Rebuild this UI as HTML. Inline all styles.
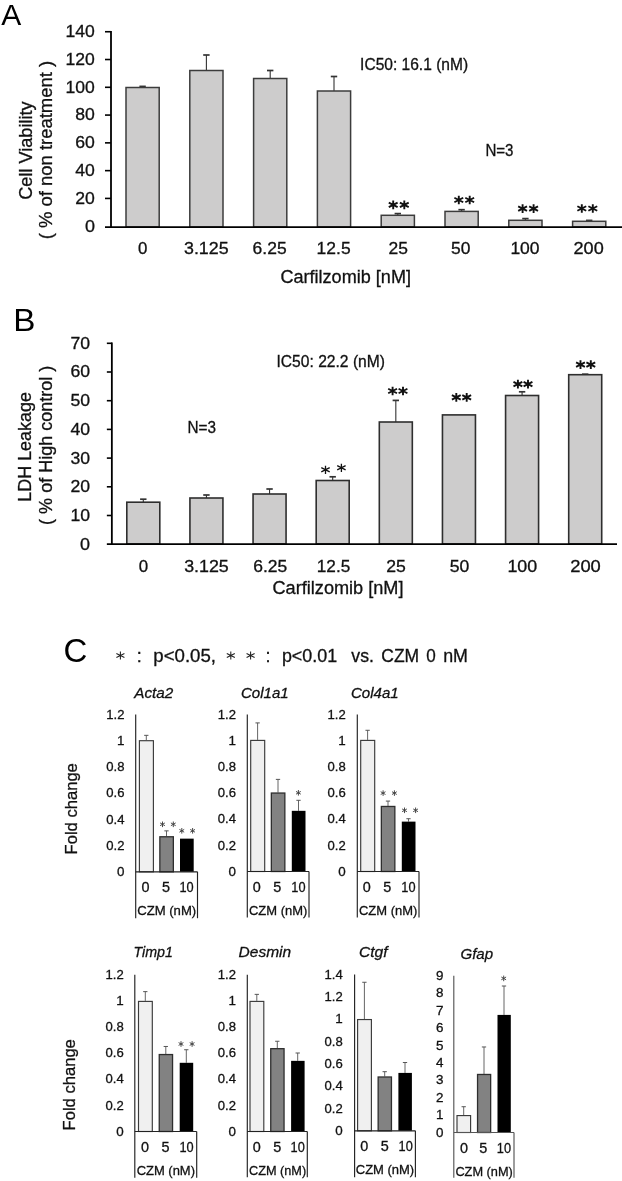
<!DOCTYPE html>
<html><head><meta charset="utf-8"><title>Figure</title>
<style>
html,body{margin:0;padding:0;background:#fff;}
body{width:622px;height:1181px;overflow:hidden;}
svg{display:block;filter:blur(0.35px);}
svg text{font-family:"Liberation Sans", sans-serif;stroke:#111;stroke-width:0.3px;}
</style></head><body>
<svg width="622" height="1181" viewBox="0 0 622 1181">
<rect x="0" y="0" width="622" height="1181" fill="#ffffff"/>
<text x="1.20" y="25.30" font-size="30" text-anchor="start" fill="#000" style="stroke:none">A</text>
<text x="13.20" y="331.20" font-size="31" text-anchor="start" fill="#000" textLength="22.20" lengthAdjust="spacingAndGlyphs" style="stroke:none">B</text>
<text x="63.60" y="662.40" font-size="33" text-anchor="start" fill="#000" style="stroke:none">C</text>
<line x1="142.60" y1="86.40" x2="142.60" y2="87.50" stroke="#333" stroke-width="1.1"/>
<line x1="139.40" y1="86.40" x2="145.80" y2="86.40" stroke="#333" stroke-width="1.7"/>
<rect x="126.00" y="87.50" width="33.20" height="139.50" fill="#cdcccc" stroke="#3c3c3c" stroke-width="1.5"/>
<line x1="206.40" y1="55.00" x2="206.40" y2="70.50" stroke="#333" stroke-width="1.1"/>
<line x1="203.20" y1="55.00" x2="209.60" y2="55.00" stroke="#333" stroke-width="1.7"/>
<rect x="189.80" y="70.50" width="33.20" height="156.50" fill="#cdcccc" stroke="#3c3c3c" stroke-width="1.5"/>
<line x1="270.20" y1="70.50" x2="270.20" y2="78.50" stroke="#333" stroke-width="1.1"/>
<line x1="267.00" y1="70.50" x2="273.40" y2="70.50" stroke="#333" stroke-width="1.7"/>
<rect x="253.60" y="78.50" width="33.20" height="148.50" fill="#cdcccc" stroke="#3c3c3c" stroke-width="1.5"/>
<line x1="334.00" y1="76.50" x2="334.00" y2="91.00" stroke="#333" stroke-width="1.1"/>
<line x1="330.80" y1="76.50" x2="337.20" y2="76.50" stroke="#333" stroke-width="1.7"/>
<rect x="317.40" y="91.00" width="33.20" height="136.00" fill="#cdcccc" stroke="#3c3c3c" stroke-width="1.5"/>
<line x1="397.80" y1="213.60" x2="397.80" y2="215.30" stroke="#333" stroke-width="1.1"/>
<line x1="394.60" y1="213.60" x2="401.00" y2="213.60" stroke="#333" stroke-width="1.7"/>
<rect x="381.20" y="215.30" width="33.20" height="11.70" fill="#cdcccc" stroke="#3c3c3c" stroke-width="1.5"/>
<line x1="461.60" y1="209.70" x2="461.60" y2="211.40" stroke="#333" stroke-width="1.1"/>
<line x1="458.40" y1="209.70" x2="464.80" y2="209.70" stroke="#333" stroke-width="1.7"/>
<rect x="445.00" y="211.40" width="33.20" height="15.60" fill="#cdcccc" stroke="#3c3c3c" stroke-width="1.5"/>
<line x1="525.40" y1="218.60" x2="525.40" y2="220.30" stroke="#333" stroke-width="1.1"/>
<line x1="522.20" y1="218.60" x2="528.60" y2="218.60" stroke="#333" stroke-width="1.7"/>
<rect x="508.80" y="220.30" width="33.20" height="6.70" fill="#cdcccc" stroke="#3c3c3c" stroke-width="1.5"/>
<line x1="589.20" y1="220.40" x2="589.20" y2="221.30" stroke="#333" stroke-width="1.1"/>
<line x1="586.00" y1="220.40" x2="592.40" y2="220.40" stroke="#333" stroke-width="1.7"/>
<rect x="572.60" y="221.30" width="33.20" height="5.70" fill="#cdcccc" stroke="#3c3c3c" stroke-width="1.5"/>
<line x1="111.00" y1="30.95" x2="111.00" y2="227.88" stroke="#000" stroke-width="1.8"/>
<line x1="105.00" y1="227.00" x2="622.00" y2="227.00" stroke="#000" stroke-width="1.75"/>
<text x="94.90" y="231.60" font-size="16.3" text-anchor="end" fill="#111" textLength="10.00" lengthAdjust="spacingAndGlyphs">0</text>
<line x1="105.00" y1="198.42" x2="111.00" y2="198.42" stroke="#000" stroke-width="1.6"/>
<text x="94.90" y="203.82" font-size="16.3" text-anchor="end" fill="#111" textLength="19.60" lengthAdjust="spacingAndGlyphs">20</text>
<line x1="105.00" y1="170.64" x2="111.00" y2="170.64" stroke="#000" stroke-width="1.6"/>
<text x="94.90" y="176.04" font-size="16.3" text-anchor="end" fill="#111" textLength="19.60" lengthAdjust="spacingAndGlyphs">40</text>
<line x1="105.00" y1="142.86" x2="111.00" y2="142.86" stroke="#000" stroke-width="1.6"/>
<text x="94.90" y="148.26" font-size="16.3" text-anchor="end" fill="#111" textLength="19.60" lengthAdjust="spacingAndGlyphs">60</text>
<line x1="105.00" y1="115.08" x2="111.00" y2="115.08" stroke="#000" stroke-width="1.6"/>
<text x="94.90" y="120.48" font-size="16.3" text-anchor="end" fill="#111" textLength="19.60" lengthAdjust="spacingAndGlyphs">80</text>
<line x1="105.00" y1="87.30" x2="111.00" y2="87.30" stroke="#000" stroke-width="1.6"/>
<text x="94.90" y="92.70" font-size="16.3" text-anchor="end" fill="#111" textLength="29.30" lengthAdjust="spacingAndGlyphs">100</text>
<line x1="105.00" y1="59.52" x2="111.00" y2="59.52" stroke="#000" stroke-width="1.6"/>
<text x="94.90" y="64.92" font-size="16.3" text-anchor="end" fill="#111" textLength="29.30" lengthAdjust="spacingAndGlyphs">120</text>
<line x1="105.00" y1="31.74" x2="111.00" y2="31.74" stroke="#000" stroke-width="1.6"/>
<text x="94.90" y="37.14" font-size="16.3" text-anchor="end" fill="#111" textLength="29.30" lengthAdjust="spacingAndGlyphs">140</text>
<text x="142.80" y="254.00" font-size="16.6" text-anchor="middle" fill="#111" textLength="9.40" lengthAdjust="spacingAndGlyphs">0</text>
<text x="206.30" y="254.00" font-size="16.6" text-anchor="middle" fill="#111" textLength="44.60" lengthAdjust="spacingAndGlyphs">3.125</text>
<text x="269.60" y="254.00" font-size="16.6" text-anchor="middle" fill="#111" textLength="34.00" lengthAdjust="spacingAndGlyphs">6.25</text>
<text x="333.60" y="254.00" font-size="16.6" text-anchor="middle" fill="#111" textLength="34.00" lengthAdjust="spacingAndGlyphs">12.5</text>
<text x="398.30" y="254.00" font-size="16.6" text-anchor="middle" fill="#111" textLength="19.40" lengthAdjust="spacingAndGlyphs">25</text>
<text x="460.70" y="254.00" font-size="16.6" text-anchor="middle" fill="#111" textLength="19.40" lengthAdjust="spacingAndGlyphs">50</text>
<text x="525.00" y="254.00" font-size="16.6" text-anchor="middle" fill="#111" textLength="29.20" lengthAdjust="spacingAndGlyphs">100</text>
<text x="588.60" y="254.00" font-size="16.6" text-anchor="middle" fill="#111" textLength="30.20" lengthAdjust="spacingAndGlyphs">200</text>
<text x="280.40" y="283.00" font-size="18" text-anchor="start" fill="#111" textLength="130.60" lengthAdjust="spacingAndGlyphs">Carfilzomib [nM]</text>
<text x="31.80" y="150.60" font-size="18" text-anchor="middle" fill="#111" textLength="98.40" lengthAdjust="spacingAndGlyphs" transform="rotate(-90 31.80 150.60)">Cell Viability</text>
<text x="52.10" y="150.10" font-size="18" text-anchor="middle" fill="#111" textLength="178.40" lengthAdjust="spacingAndGlyphs" transform="rotate(-90 52.10 150.10)">( % of non treatment )</text>
<path d="M393.20 200.44L393.20 209.17M388.79 202.55L397.61 207.05M397.61 202.55L388.79 207.05" stroke="#111" stroke-width="1.9" fill="none"/>
<path d="M404.30 200.44L404.30 209.17M399.89 202.55L408.71 207.05M408.71 202.55L399.89 207.05" stroke="#111" stroke-width="1.9" fill="none"/>
<path d="M458.80 195.63L458.80 204.37M454.39 197.75L463.21 202.25M463.21 197.75L454.39 202.25" stroke="#111" stroke-width="1.9" fill="none"/>
<path d="M469.70 195.63L469.70 204.37M465.29 197.75L474.11 202.25M474.11 197.75L465.29 202.25" stroke="#111" stroke-width="1.9" fill="none"/>
<path d="M522.60 204.23L522.60 212.97M518.19 206.35L527.01 210.85M527.01 206.35L518.19 210.85" stroke="#111" stroke-width="1.9" fill="none"/>
<path d="M533.60 204.23L533.60 212.97M529.19 206.35L538.01 210.85M538.01 206.35L529.19 210.85" stroke="#111" stroke-width="1.9" fill="none"/>
<path d="M581.80 204.13L581.80 212.87M577.39 206.25L586.21 210.75M586.21 206.25L577.39 210.75" stroke="#111" stroke-width="1.9" fill="none"/>
<path d="M592.80 204.13L592.80 212.87M588.39 206.25L597.21 210.75M597.21 206.25L588.39 210.75" stroke="#111" stroke-width="1.9" fill="none"/>
<text x="360.10" y="69.80" font-size="15.6" text-anchor="start" fill="#111" textLength="108.00" lengthAdjust="spacingAndGlyphs">IC50: 16.1 (nM)</text>
<text x="485.40" y="155.70" font-size="15.6" text-anchor="start" fill="#111" textLength="28.10" lengthAdjust="spacingAndGlyphs">N=3</text>
<line x1="143.30" y1="499.20" x2="143.30" y2="502.20" stroke="#333" stroke-width="1.1"/>
<line x1="140.10" y1="499.20" x2="146.50" y2="499.20" stroke="#333" stroke-width="1.7"/>
<rect x="126.80" y="502.20" width="33.00" height="41.80" fill="#cdcccc" stroke="#2e2e2e" stroke-width="1.6"/>
<line x1="206.43" y1="495.00" x2="206.43" y2="498.00" stroke="#333" stroke-width="1.1"/>
<line x1="203.23" y1="495.00" x2="209.63" y2="495.00" stroke="#333" stroke-width="1.7"/>
<rect x="189.93" y="498.00" width="33.00" height="46.00" fill="#cdcccc" stroke="#2e2e2e" stroke-width="1.6"/>
<line x1="269.56" y1="489.00" x2="269.56" y2="494.00" stroke="#333" stroke-width="1.1"/>
<line x1="266.36" y1="489.00" x2="272.76" y2="489.00" stroke="#333" stroke-width="1.7"/>
<rect x="253.06" y="494.00" width="33.00" height="50.00" fill="#cdcccc" stroke="#2e2e2e" stroke-width="1.6"/>
<line x1="332.69" y1="476.80" x2="332.69" y2="480.50" stroke="#333" stroke-width="1.1"/>
<line x1="329.49" y1="476.80" x2="335.89" y2="476.80" stroke="#333" stroke-width="1.7"/>
<rect x="316.19" y="480.50" width="33.00" height="63.50" fill="#cdcccc" stroke="#2e2e2e" stroke-width="1.6"/>
<line x1="395.82" y1="400.40" x2="395.82" y2="422.00" stroke="#333" stroke-width="1.1"/>
<line x1="392.62" y1="400.40" x2="399.02" y2="400.40" stroke="#333" stroke-width="1.7"/>
<rect x="379.32" y="422.00" width="33.00" height="122.00" fill="#cdcccc" stroke="#2e2e2e" stroke-width="1.6"/>
<rect x="442.45" y="414.90" width="33.00" height="129.10" fill="#cdcccc" stroke="#2e2e2e" stroke-width="1.6"/>
<line x1="522.08" y1="391.80" x2="522.08" y2="395.50" stroke="#333" stroke-width="1.1"/>
<line x1="518.88" y1="391.80" x2="525.28" y2="391.80" stroke="#333" stroke-width="1.7"/>
<rect x="505.58" y="395.50" width="33.00" height="148.50" fill="#cdcccc" stroke="#2e2e2e" stroke-width="1.6"/>
<line x1="585.21" y1="374.20" x2="585.21" y2="374.70" stroke="#333" stroke-width="1.1"/>
<line x1="582.01" y1="374.20" x2="588.41" y2="374.20" stroke="#333" stroke-width="1.7"/>
<rect x="568.71" y="374.70" width="33.00" height="169.30" fill="#cdcccc" stroke="#2e2e2e" stroke-width="1.6"/>
<line x1="111.85" y1="342.45" x2="111.85" y2="544.88" stroke="#000" stroke-width="1.8"/>
<line x1="106.85" y1="544.00" x2="617.00" y2="544.00" stroke="#000" stroke-width="1.75"/>
<text x="90.00" y="549.60" font-size="16.3" text-anchor="end" fill="#111" textLength="10.00" lengthAdjust="spacingAndGlyphs">0</text>
<line x1="106.85" y1="515.50" x2="111.85" y2="515.50" stroke="#000" stroke-width="1.6"/>
<text x="90.00" y="520.90" font-size="16.3" text-anchor="end" fill="#111" textLength="19.60" lengthAdjust="spacingAndGlyphs">10</text>
<line x1="106.85" y1="486.80" x2="111.85" y2="486.80" stroke="#000" stroke-width="1.6"/>
<text x="90.00" y="492.20" font-size="16.3" text-anchor="end" fill="#111" textLength="19.60" lengthAdjust="spacingAndGlyphs">20</text>
<line x1="106.85" y1="458.10" x2="111.85" y2="458.10" stroke="#000" stroke-width="1.6"/>
<text x="90.00" y="463.50" font-size="16.3" text-anchor="end" fill="#111" textLength="19.60" lengthAdjust="spacingAndGlyphs">30</text>
<line x1="106.85" y1="429.40" x2="111.85" y2="429.40" stroke="#000" stroke-width="1.6"/>
<text x="90.00" y="434.80" font-size="16.3" text-anchor="end" fill="#111" textLength="19.60" lengthAdjust="spacingAndGlyphs">40</text>
<line x1="106.85" y1="400.70" x2="111.85" y2="400.70" stroke="#000" stroke-width="1.6"/>
<text x="90.00" y="406.10" font-size="16.3" text-anchor="end" fill="#111" textLength="19.60" lengthAdjust="spacingAndGlyphs">50</text>
<line x1="106.85" y1="372.00" x2="111.85" y2="372.00" stroke="#000" stroke-width="1.6"/>
<text x="90.00" y="377.40" font-size="16.3" text-anchor="end" fill="#111" textLength="19.60" lengthAdjust="spacingAndGlyphs">60</text>
<line x1="106.85" y1="343.30" x2="111.85" y2="343.30" stroke="#000" stroke-width="1.6"/>
<text x="90.00" y="348.70" font-size="16.3" text-anchor="end" fill="#111" textLength="19.60" lengthAdjust="spacingAndGlyphs">70</text>
<text x="143.50" y="572.20" font-size="16.6" text-anchor="middle" fill="#111" textLength="9.40" lengthAdjust="spacingAndGlyphs">0</text>
<text x="206.50" y="572.20" font-size="16.6" text-anchor="middle" fill="#111" textLength="44.60" lengthAdjust="spacingAndGlyphs">3.125</text>
<text x="270.20" y="572.20" font-size="16.6" text-anchor="middle" fill="#111" textLength="34.00" lengthAdjust="spacingAndGlyphs">6.25</text>
<text x="333.50" y="572.20" font-size="16.6" text-anchor="middle" fill="#111" textLength="33.50" lengthAdjust="spacingAndGlyphs">12.5</text>
<text x="396.00" y="572.20" font-size="16.6" text-anchor="middle" fill="#111" textLength="19.60" lengthAdjust="spacingAndGlyphs">25</text>
<text x="459.50" y="572.20" font-size="16.6" text-anchor="middle" fill="#111" textLength="19.60" lengthAdjust="spacingAndGlyphs">50</text>
<text x="522.30" y="572.20" font-size="16.6" text-anchor="middle" fill="#111" textLength="29.80" lengthAdjust="spacingAndGlyphs">100</text>
<text x="585.50" y="572.20" font-size="16.6" text-anchor="middle" fill="#111" textLength="30.60" lengthAdjust="spacingAndGlyphs">200</text>
<text x="272.50" y="594.30" font-size="18" text-anchor="start" fill="#111" textLength="131.00" lengthAdjust="spacingAndGlyphs">Carfilzomib [nM]</text>
<text x="30.90" y="446.90" font-size="18" text-anchor="middle" fill="#111" textLength="109.60" lengthAdjust="spacingAndGlyphs" transform="rotate(-90 30.90 446.90)">LDH Leakage</text>
<text x="52.10" y="445.30" font-size="18" text-anchor="middle" fill="#111" textLength="159.20" lengthAdjust="spacingAndGlyphs" transform="rotate(-90 52.10 445.30)">( % of High control )</text>
<path d="M325.50 465.63L325.50 473.97M321.29 467.65L329.71 471.95M329.71 467.65L321.29 471.95" stroke="#111" stroke-width="1.3" fill="none"/>
<path d="M341.40 463.63L341.40 471.97M337.19 465.65L345.61 469.95M345.61 465.65L337.19 469.95" stroke="#111" stroke-width="1.3" fill="none"/>
<path d="M392.60 386.63L392.60 395.37M388.19 388.75L397.01 393.25M397.01 388.75L388.19 393.25" stroke="#111" stroke-width="1.9" fill="none"/>
<path d="M403.00 386.63L403.00 395.37M398.59 388.75L407.41 393.25M407.41 388.75L398.59 393.25" stroke="#111" stroke-width="1.9" fill="none"/>
<path d="M456.30 393.03L456.30 401.76M451.89 395.15L460.71 399.65M460.71 395.15L451.89 399.65" stroke="#111" stroke-width="1.9" fill="none"/>
<path d="M466.70 393.03L466.70 401.76M462.29 395.15L471.11 399.65M471.11 395.15L462.29 399.65" stroke="#111" stroke-width="1.9" fill="none"/>
<path d="M517.90 379.83L517.90 388.56M513.49 381.95L522.31 386.45M522.31 381.95L513.49 386.45" stroke="#111" stroke-width="1.9" fill="none"/>
<path d="M528.00 379.83L528.00 388.56M523.59 381.95L532.41 386.45M532.41 381.95L523.59 386.45" stroke="#111" stroke-width="1.9" fill="none"/>
<path d="M580.50 360.33L580.50 369.06M576.09 362.45L584.91 366.95M584.91 362.45L576.09 366.95" stroke="#111" stroke-width="1.9" fill="none"/>
<path d="M590.80 360.33L590.80 369.06M586.39 362.45L595.21 366.95M595.21 362.45L586.39 366.95" stroke="#111" stroke-width="1.9" fill="none"/>
<text x="276.50" y="367.00" font-size="15.6" text-anchor="start" fill="#111" textLength="108.50" lengthAdjust="spacingAndGlyphs">IC50: 22.2 (nM)</text>
<text x="187.50" y="433.00" font-size="15.6" text-anchor="start" fill="#111" textLength="28.50" lengthAdjust="spacingAndGlyphs">N=3</text>
<path d="M120.40 651.52L120.40 659.48M116.38 653.45L124.42 657.55M124.42 653.45L116.38 657.55" stroke="#222" stroke-width="1.05" fill="none"/>
<text x="139.20" y="661.70" font-size="18.0" text-anchor="middle" fill="#111">:</text>
<text x="153.30" y="661.70" font-size="18.0" text-anchor="start" fill="#111" textLength="62.70" lengthAdjust="spacingAndGlyphs">p&lt;0.05,</text>
<path d="M230.80 651.52L230.80 659.48M226.78 653.45L234.82 657.55M234.82 653.45L226.78 657.55" stroke="#222" stroke-width="1.05" fill="none"/>
<path d="M250.60 651.52L250.60 659.48M246.58 653.45L254.62 657.55M254.62 653.45L246.58 657.55" stroke="#222" stroke-width="1.05" fill="none"/>
<text x="268.00" y="661.70" font-size="18.0" text-anchor="middle" fill="#111">:</text>
<text x="281.90" y="661.70" font-size="18.0" text-anchor="start" fill="#111" textLength="55.20" lengthAdjust="spacingAndGlyphs">p&lt;0.01</text>
<text x="351.30" y="661.70" font-size="18.0" text-anchor="start" fill="#111" textLength="22.60" lengthAdjust="spacingAndGlyphs">vs.</text>
<text x="381.30" y="661.70" font-size="18.0" text-anchor="start" fill="#111" textLength="37.90" lengthAdjust="spacingAndGlyphs">CZM</text>
<text x="426.30" y="661.70" font-size="18.0" text-anchor="start" fill="#111" textLength="9.50" lengthAdjust="spacingAndGlyphs">0</text>
<text x="443.20" y="661.70" font-size="18.0" text-anchor="start" fill="#111" textLength="24.80" lengthAdjust="spacingAndGlyphs">nM</text>
<line x1="146.30" y1="735.33" x2="146.30" y2="740.20" stroke="#555" stroke-width="0.9"/>
<line x1="144.15" y1="735.33" x2="148.45" y2="735.33" stroke="#555" stroke-width="1.0"/>
<rect x="139.40" y="740.70" width="14.00" height="131.10" fill="#f0f0f0" stroke="#3a3a3a" stroke-width="1.15"/>
<line x1="166.50" y1="830.87" x2="166.50" y2="836.27" stroke="#555" stroke-width="0.9"/>
<line x1="164.35" y1="830.87" x2="168.65" y2="830.87" stroke="#555" stroke-width="1.0"/>
<rect x="159.85" y="836.77" width="13.50" height="35.03" fill="#828282" stroke="#2e2e2e" stroke-width="1.3"/>
<rect x="180.00" y="838.64" width="13.70" height="33.16" fill="#000"/>
<line x1="135.70" y1="714.60" x2="135.70" y2="918.20" stroke="#222" stroke-width="1.15"/>
<line x1="135.70" y1="871.80" x2="197.50" y2="871.80" stroke="#222" stroke-width="1.15"/>
<line x1="197.50" y1="871.80" x2="197.50" y2="918.20" stroke="#222" stroke-width="1.15"/>
<text x="124.50" y="876.00" font-size="13.4" text-anchor="end" fill="#111">0</text>
<text x="124.50" y="849.80" font-size="13.4" text-anchor="end" fill="#111" textLength="18.20" lengthAdjust="spacingAndGlyphs">0.2</text>
<text x="124.50" y="823.60" font-size="13.4" text-anchor="end" fill="#111" textLength="18.20" lengthAdjust="spacingAndGlyphs">0.4</text>
<text x="124.50" y="797.40" font-size="13.4" text-anchor="end" fill="#111" textLength="18.20" lengthAdjust="spacingAndGlyphs">0.6</text>
<text x="124.50" y="771.20" font-size="13.4" text-anchor="end" fill="#111" textLength="18.20" lengthAdjust="spacingAndGlyphs">0.8</text>
<text x="124.50" y="745.00" font-size="13.4" text-anchor="end" fill="#111">1</text>
<text x="124.50" y="718.80" font-size="13.4" text-anchor="end" fill="#111" textLength="18.20" lengthAdjust="spacingAndGlyphs">1.2</text>
<text x="145.60" y="892.10" font-size="14.4" text-anchor="middle" fill="#111">0</text>
<text x="166.10" y="892.10" font-size="14.4" text-anchor="middle" fill="#111">5</text>
<text x="186.60" y="892.10" font-size="14.4" text-anchor="middle" fill="#111" textLength="14.20" lengthAdjust="spacingAndGlyphs">10</text>
<text x="137.20" y="915.00" font-size="13.4" text-anchor="start" fill="#111" textLength="59.00" lengthAdjust="spacingAndGlyphs">CZM (nM)</text>
<text x="134.30" y="698.40" font-size="15.4" text-anchor="start" fill="#111" textLength="39.00" lengthAdjust="spacingAndGlyphs" font-style="italic">Acta2</text>
<path d="M162.50 821.50L162.50 827.10M160.12 822.93L164.88 825.68M164.88 822.93L160.12 825.68" stroke="#404040" stroke-width="0.95" fill="none"/>
<path d="M173.30 821.50L173.30 827.10M170.92 822.93L175.68 825.68M175.68 822.93L170.92 825.68" stroke="#404040" stroke-width="0.95" fill="none"/>
<path d="M181.80 828.00L181.80 833.60M179.42 829.43L184.18 832.18M184.18 829.43L179.42 832.18" stroke="#404040" stroke-width="0.95" fill="none"/>
<path d="M192.60 828.00L192.60 833.60M190.22 829.43L194.98 832.18M194.98 829.43L190.22 832.18" stroke="#404040" stroke-width="0.95" fill="none"/>
<line x1="257.60" y1="722.92" x2="257.60" y2="739.90" stroke="#555" stroke-width="0.9"/>
<line x1="255.45" y1="722.92" x2="259.75" y2="722.92" stroke="#555" stroke-width="1.0"/>
<rect x="250.70" y="740.40" width="14.00" height="131.10" fill="#f0f0f0" stroke="#3a3a3a" stroke-width="1.15"/>
<line x1="278.00" y1="779.38" x2="278.00" y2="792.54" stroke="#555" stroke-width="0.9"/>
<line x1="275.85" y1="779.38" x2="280.15" y2="779.38" stroke="#555" stroke-width="1.0"/>
<rect x="271.35" y="793.04" width="13.50" height="78.46" fill="#828282" stroke="#2e2e2e" stroke-width="1.3"/>
<line x1="298.50" y1="800.30" x2="298.50" y2="810.83" stroke="#555" stroke-width="0.9"/>
<line x1="296.35" y1="800.30" x2="300.65" y2="800.30" stroke="#555" stroke-width="1.0"/>
<rect x="291.80" y="810.83" width="13.70" height="60.67" fill="#000"/>
<line x1="247.30" y1="714.60" x2="247.30" y2="917.60" stroke="#222" stroke-width="1.15"/>
<line x1="247.30" y1="871.50" x2="309.00" y2="871.50" stroke="#222" stroke-width="1.15"/>
<line x1="309.00" y1="871.50" x2="309.00" y2="917.60" stroke="#222" stroke-width="1.15"/>
<text x="236.00" y="875.70" font-size="13.4" text-anchor="end" fill="#111">0</text>
<text x="236.00" y="849.55" font-size="13.4" text-anchor="end" fill="#111" textLength="18.20" lengthAdjust="spacingAndGlyphs">0.2</text>
<text x="236.00" y="823.40" font-size="13.4" text-anchor="end" fill="#111" textLength="18.20" lengthAdjust="spacingAndGlyphs">0.4</text>
<text x="236.00" y="797.25" font-size="13.4" text-anchor="end" fill="#111" textLength="18.20" lengthAdjust="spacingAndGlyphs">0.6</text>
<text x="236.00" y="771.10" font-size="13.4" text-anchor="end" fill="#111" textLength="18.20" lengthAdjust="spacingAndGlyphs">0.8</text>
<text x="236.00" y="744.95" font-size="13.4" text-anchor="end" fill="#111">1</text>
<text x="236.00" y="718.80" font-size="13.4" text-anchor="end" fill="#111" textLength="18.20" lengthAdjust="spacingAndGlyphs">1.2</text>
<text x="256.70" y="891.70" font-size="14.4" text-anchor="middle" fill="#111">0</text>
<text x="277.20" y="891.70" font-size="14.4" text-anchor="middle" fill="#111">5</text>
<text x="298.40" y="891.70" font-size="14.4" text-anchor="middle" fill="#111" textLength="14.20" lengthAdjust="spacingAndGlyphs">10</text>
<text x="249.00" y="914.60" font-size="13.4" text-anchor="start" fill="#111" textLength="58.30" lengthAdjust="spacingAndGlyphs">CZM (nM)</text>
<text x="241.00" y="698.40" font-size="15.4" text-anchor="start" fill="#111" textLength="47.70" lengthAdjust="spacingAndGlyphs" font-style="italic">Col1a1</text>
<path d="M298.40 790.00L298.40 795.60M296.02 791.43L300.78 794.18M300.78 791.43L296.02 794.18" stroke="#404040" stroke-width="0.95" fill="none"/>
<line x1="367.60" y1="730.29" x2="367.60" y2="739.90" stroke="#555" stroke-width="0.9"/>
<line x1="365.45" y1="730.29" x2="369.75" y2="730.29" stroke="#555" stroke-width="1.0"/>
<rect x="360.70" y="740.40" width="14.00" height="131.10" fill="#f0f0f0" stroke="#3a3a3a" stroke-width="1.15"/>
<line x1="388.00" y1="801.09" x2="388.00" y2="805.96" stroke="#555" stroke-width="0.9"/>
<line x1="385.85" y1="801.09" x2="390.15" y2="801.09" stroke="#555" stroke-width="1.0"/>
<rect x="381.35" y="806.46" width="13.50" height="65.04" fill="#828282" stroke="#2e2e2e" stroke-width="1.3"/>
<line x1="408.50" y1="818.73" x2="408.50" y2="821.62" stroke="#555" stroke-width="0.9"/>
<line x1="406.35" y1="818.73" x2="410.65" y2="818.73" stroke="#555" stroke-width="1.0"/>
<rect x="401.80" y="821.62" width="13.70" height="49.88" fill="#000"/>
<line x1="357.30" y1="714.60" x2="357.30" y2="917.60" stroke="#222" stroke-width="1.15"/>
<line x1="357.30" y1="871.50" x2="419.00" y2="871.50" stroke="#222" stroke-width="1.15"/>
<line x1="419.00" y1="871.50" x2="419.00" y2="917.60" stroke="#222" stroke-width="1.15"/>
<text x="345.80" y="875.70" font-size="13.4" text-anchor="end" fill="#111">0</text>
<text x="345.80" y="849.55" font-size="13.4" text-anchor="end" fill="#111" textLength="18.20" lengthAdjust="spacingAndGlyphs">0.2</text>
<text x="345.80" y="823.40" font-size="13.4" text-anchor="end" fill="#111" textLength="18.20" lengthAdjust="spacingAndGlyphs">0.4</text>
<text x="345.80" y="797.25" font-size="13.4" text-anchor="end" fill="#111" textLength="18.20" lengthAdjust="spacingAndGlyphs">0.6</text>
<text x="345.80" y="771.10" font-size="13.4" text-anchor="end" fill="#111" textLength="18.20" lengthAdjust="spacingAndGlyphs">0.8</text>
<text x="345.80" y="744.95" font-size="13.4" text-anchor="end" fill="#111">1</text>
<text x="345.80" y="718.80" font-size="13.4" text-anchor="end" fill="#111" textLength="18.20" lengthAdjust="spacingAndGlyphs">1.2</text>
<text x="366.70" y="891.70" font-size="14.4" text-anchor="middle" fill="#111">0</text>
<text x="387.20" y="891.70" font-size="14.4" text-anchor="middle" fill="#111">5</text>
<text x="408.40" y="891.70" font-size="14.4" text-anchor="middle" fill="#111" textLength="14.20" lengthAdjust="spacingAndGlyphs">10</text>
<text x="359.00" y="914.60" font-size="13.4" text-anchor="start" fill="#111" textLength="58.30" lengthAdjust="spacingAndGlyphs">CZM (nM)</text>
<text x="351.00" y="698.40" font-size="15.4" text-anchor="start" fill="#111" textLength="47.70" lengthAdjust="spacingAndGlyphs" font-style="italic">Col4a1</text>
<path d="M383.10 790.30L383.10 795.90M380.72 791.73L385.48 794.48M385.48 791.73L380.72 794.48" stroke="#404040" stroke-width="0.95" fill="none"/>
<path d="M394.40 790.30L394.40 795.90M392.02 791.73L396.78 794.48M396.78 791.73L392.02 794.48" stroke="#404040" stroke-width="0.95" fill="none"/>
<path d="M404.50 807.50L404.50 813.10M402.12 808.93L406.88 811.68M406.88 808.93L402.12 811.68" stroke="#404040" stroke-width="0.95" fill="none"/>
<path d="M415.60 807.50L415.60 813.10M413.22 808.93L417.98 811.68M417.98 808.93L413.22 811.68" stroke="#404040" stroke-width="0.95" fill="none"/>
<line x1="145.30" y1="991.63" x2="145.30" y2="1000.90" stroke="#555" stroke-width="0.9"/>
<line x1="143.15" y1="991.63" x2="147.45" y2="991.63" stroke="#555" stroke-width="1.0"/>
<rect x="138.50" y="1001.40" width="13.80" height="130.10" fill="#f0f0f0" stroke="#3a3a3a" stroke-width="1.15"/>
<line x1="165.80" y1="1046.48" x2="165.80" y2="1054.05" stroke="#555" stroke-width="0.9"/>
<line x1="163.65" y1="1046.48" x2="167.95" y2="1046.48" stroke="#555" stroke-width="1.0"/>
<rect x="159.25" y="1054.55" width="13.30" height="76.95" fill="#828282" stroke="#2e2e2e" stroke-width="1.3"/>
<line x1="186.30" y1="1049.74" x2="186.30" y2="1062.80" stroke="#555" stroke-width="0.9"/>
<line x1="184.15" y1="1049.74" x2="188.45" y2="1049.74" stroke="#555" stroke-width="1.0"/>
<rect x="179.70" y="1062.80" width="13.50" height="68.70" fill="#000"/>
<line x1="134.80" y1="974.80" x2="134.80" y2="1177.80" stroke="#222" stroke-width="1.15"/>
<line x1="134.80" y1="1131.50" x2="196.70" y2="1131.50" stroke="#222" stroke-width="1.15"/>
<line x1="196.70" y1="1131.50" x2="196.70" y2="1177.80" stroke="#222" stroke-width="1.15"/>
<text x="123.80" y="1135.70" font-size="13.4" text-anchor="end" fill="#111">0</text>
<text x="123.80" y="1109.58" font-size="13.4" text-anchor="end" fill="#111" textLength="18.20" lengthAdjust="spacingAndGlyphs">0.2</text>
<text x="123.80" y="1083.47" font-size="13.4" text-anchor="end" fill="#111" textLength="18.20" lengthAdjust="spacingAndGlyphs">0.4</text>
<text x="123.80" y="1057.35" font-size="13.4" text-anchor="end" fill="#111" textLength="18.20" lengthAdjust="spacingAndGlyphs">0.6</text>
<text x="123.80" y="1031.23" font-size="13.4" text-anchor="end" fill="#111" textLength="18.20" lengthAdjust="spacingAndGlyphs">0.8</text>
<text x="123.80" y="1005.12" font-size="13.4" text-anchor="end" fill="#111">1</text>
<text x="123.80" y="979.00" font-size="13.4" text-anchor="end" fill="#111" textLength="18.20" lengthAdjust="spacingAndGlyphs">1.2</text>
<text x="144.90" y="1152.00" font-size="14.4" text-anchor="middle" fill="#111">0</text>
<text x="165.60" y="1152.00" font-size="14.4" text-anchor="middle" fill="#111">5</text>
<text x="186.60" y="1152.00" font-size="14.4" text-anchor="middle" fill="#111" textLength="14.20" lengthAdjust="spacingAndGlyphs">10</text>
<text x="136.70" y="1174.80" font-size="13.4" text-anchor="start" fill="#111" textLength="58.30" lengthAdjust="spacingAndGlyphs">CZM (nM)</text>
<text x="133.50" y="956.70" font-size="15.4" text-anchor="start" fill="#111" textLength="39.40" lengthAdjust="spacingAndGlyphs" font-style="italic">Timp1</text>
<path d="M181.00 1041.20L181.00 1046.80M178.62 1042.62L183.38 1045.38M183.38 1042.62L178.62 1045.38" stroke="#404040" stroke-width="0.95" fill="none"/>
<path d="M192.10 1041.20L192.10 1046.80M189.72 1042.62L194.48 1045.38M194.48 1042.62L189.72 1045.38" stroke="#404040" stroke-width="0.95" fill="none"/>
<line x1="256.80" y1="994.37" x2="256.80" y2="1000.90" stroke="#555" stroke-width="0.9"/>
<line x1="254.65" y1="994.37" x2="258.95" y2="994.37" stroke="#555" stroke-width="1.0"/>
<rect x="250.00" y="1001.40" width="13.80" height="130.10" fill="#f0f0f0" stroke="#3a3a3a" stroke-width="1.15"/>
<line x1="277.30" y1="1041.26" x2="277.30" y2="1048.18" stroke="#555" stroke-width="0.9"/>
<line x1="275.15" y1="1041.26" x2="279.45" y2="1041.26" stroke="#555" stroke-width="1.0"/>
<rect x="270.75" y="1048.68" width="13.30" height="82.82" fill="#828282" stroke="#2e2e2e" stroke-width="1.3"/>
<line x1="297.70" y1="1053.01" x2="297.70" y2="1060.85" stroke="#555" stroke-width="0.9"/>
<line x1="295.55" y1="1053.01" x2="299.85" y2="1053.01" stroke="#555" stroke-width="1.0"/>
<rect x="291.10" y="1060.85" width="13.50" height="70.65" fill="#000"/>
<line x1="247.30" y1="974.80" x2="247.30" y2="1177.30" stroke="#222" stroke-width="1.15"/>
<line x1="247.30" y1="1131.50" x2="307.30" y2="1131.50" stroke="#222" stroke-width="1.15"/>
<line x1="307.30" y1="1131.50" x2="307.30" y2="1177.30" stroke="#222" stroke-width="1.15"/>
<text x="236.00" y="1135.70" font-size="13.4" text-anchor="end" fill="#111">0</text>
<text x="236.00" y="1109.58" font-size="13.4" text-anchor="end" fill="#111" textLength="18.20" lengthAdjust="spacingAndGlyphs">0.2</text>
<text x="236.00" y="1083.47" font-size="13.4" text-anchor="end" fill="#111" textLength="18.20" lengthAdjust="spacingAndGlyphs">0.4</text>
<text x="236.00" y="1057.35" font-size="13.4" text-anchor="end" fill="#111" textLength="18.20" lengthAdjust="spacingAndGlyphs">0.6</text>
<text x="236.00" y="1031.23" font-size="13.4" text-anchor="end" fill="#111" textLength="18.20" lengthAdjust="spacingAndGlyphs">0.8</text>
<text x="236.00" y="1005.12" font-size="13.4" text-anchor="end" fill="#111">1</text>
<text x="236.00" y="979.00" font-size="13.4" text-anchor="end" fill="#111" textLength="18.20" lengthAdjust="spacingAndGlyphs">1.2</text>
<text x="256.70" y="1152.00" font-size="14.4" text-anchor="middle" fill="#111">0</text>
<text x="277.20" y="1152.00" font-size="14.4" text-anchor="middle" fill="#111">5</text>
<text x="297.70" y="1152.00" font-size="14.4" text-anchor="middle" fill="#111" textLength="14.20" lengthAdjust="spacingAndGlyphs">10</text>
<text x="249.00" y="1174.80" font-size="13.4" text-anchor="start" fill="#111" textLength="57.20" lengthAdjust="spacingAndGlyphs">CZM (nM)</text>
<text x="238.60" y="956.70" font-size="15.4" text-anchor="start" fill="#111" textLength="52.60" lengthAdjust="spacingAndGlyphs" font-style="italic">Desmin</text>
<line x1="364.40" y1="982.28" x2="364.40" y2="1019.05" stroke="#555" stroke-width="0.9"/>
<line x1="362.25" y1="982.28" x2="366.55" y2="982.28" stroke="#555" stroke-width="1.0"/>
<rect x="357.60" y="1019.55" width="13.80" height="111.25" fill="#f0f0f0" stroke="#3a3a3a" stroke-width="1.15"/>
<line x1="384.70" y1="1071.68" x2="384.70" y2="1076.49" stroke="#555" stroke-width="0.9"/>
<line x1="382.55" y1="1071.68" x2="386.85" y2="1071.68" stroke="#555" stroke-width="1.0"/>
<rect x="378.15" y="1076.99" width="13.30" height="53.81" fill="#828282" stroke="#2e2e2e" stroke-width="1.3"/>
<line x1="405.00" y1="1062.52" x2="405.00" y2="1072.91" stroke="#555" stroke-width="0.9"/>
<line x1="402.85" y1="1062.52" x2="407.15" y2="1062.52" stroke="#555" stroke-width="1.0"/>
<rect x="398.40" y="1072.91" width="13.50" height="57.89" fill="#000"/>
<line x1="354.60" y1="974.40" x2="354.60" y2="1177.30" stroke="#222" stroke-width="1.15"/>
<line x1="354.60" y1="1130.80" x2="415.40" y2="1130.80" stroke="#222" stroke-width="1.15"/>
<line x1="415.40" y1="1130.80" x2="415.40" y2="1177.30" stroke="#222" stroke-width="1.15"/>
<text x="342.80" y="1135.00" font-size="13.4" text-anchor="end" fill="#111">0</text>
<text x="342.80" y="1112.66" font-size="13.4" text-anchor="end" fill="#111" textLength="18.20" lengthAdjust="spacingAndGlyphs">0.2</text>
<text x="342.80" y="1090.31" font-size="13.4" text-anchor="end" fill="#111" textLength="18.20" lengthAdjust="spacingAndGlyphs">0.4</text>
<text x="342.80" y="1067.97" font-size="13.4" text-anchor="end" fill="#111" textLength="18.20" lengthAdjust="spacingAndGlyphs">0.6</text>
<text x="342.80" y="1045.63" font-size="13.4" text-anchor="end" fill="#111" textLength="18.20" lengthAdjust="spacingAndGlyphs">0.8</text>
<text x="342.80" y="1023.29" font-size="13.4" text-anchor="end" fill="#111">1</text>
<text x="342.80" y="1000.94" font-size="13.4" text-anchor="end" fill="#111" textLength="18.20" lengthAdjust="spacingAndGlyphs">1.2</text>
<text x="342.80" y="978.60" font-size="13.4" text-anchor="end" fill="#111" textLength="18.20" lengthAdjust="spacingAndGlyphs">1.4</text>
<text x="364.30" y="1151.20" font-size="14.4" text-anchor="middle" fill="#111">0</text>
<text x="384.80" y="1151.20" font-size="14.4" text-anchor="middle" fill="#111">5</text>
<text x="405.70" y="1151.20" font-size="14.4" text-anchor="middle" fill="#111" textLength="14.20" lengthAdjust="spacingAndGlyphs">10</text>
<text x="355.80" y="1174.00" font-size="13.4" text-anchor="start" fill="#111" textLength="58.40" lengthAdjust="spacingAndGlyphs">CZM (nM)</text>
<text x="359.00" y="956.70" font-size="15.4" text-anchor="start" fill="#111" textLength="28.60" lengthAdjust="spacingAndGlyphs" font-style="italic">Ctgf</text>
<line x1="463.70" y1="1106.72" x2="463.70" y2="1115.08" stroke="#555" stroke-width="0.9"/>
<line x1="461.55" y1="1106.72" x2="465.85" y2="1106.72" stroke="#555" stroke-width="1.0"/>
<rect x="457.00" y="1115.58" width="13.60" height="16.92" fill="#f0f0f0" stroke="#3a3a3a" stroke-width="1.15"/>
<line x1="484.00" y1="1046.97" x2="484.00" y2="1073.97" stroke="#555" stroke-width="0.9"/>
<line x1="481.85" y1="1046.97" x2="486.15" y2="1046.97" stroke="#555" stroke-width="1.0"/>
<rect x="477.55" y="1074.47" width="13.10" height="58.03" fill="#828282" stroke="#2e2e2e" stroke-width="1.3"/>
<line x1="504.00" y1="986.00" x2="504.00" y2="1014.91" stroke="#555" stroke-width="0.9"/>
<line x1="501.85" y1="986.00" x2="506.15" y2="986.00" stroke="#555" stroke-width="1.0"/>
<rect x="497.50" y="1014.91" width="13.30" height="117.59" fill="#000"/>
<line x1="453.80" y1="975.70" x2="453.80" y2="1177.80" stroke="#555" stroke-width="1.15"/>
<line x1="453.80" y1="1132.50" x2="514.00" y2="1132.50" stroke="#555" stroke-width="1.15"/>
<line x1="514.00" y1="1132.50" x2="514.00" y2="1177.80" stroke="#555" stroke-width="1.15"/>
<text x="443.40" y="1136.70" font-size="13.4" text-anchor="end" fill="#111">0</text>
<text x="443.40" y="1119.28" font-size="13.4" text-anchor="end" fill="#111">1</text>
<text x="443.40" y="1101.86" font-size="13.4" text-anchor="end" fill="#111">2</text>
<text x="443.40" y="1084.43" font-size="13.4" text-anchor="end" fill="#111">3</text>
<text x="443.40" y="1067.01" font-size="13.4" text-anchor="end" fill="#111">4</text>
<text x="443.40" y="1049.59" font-size="13.4" text-anchor="end" fill="#111">5</text>
<text x="443.40" y="1032.17" font-size="13.4" text-anchor="end" fill="#111">6</text>
<text x="443.40" y="1014.74" font-size="13.4" text-anchor="end" fill="#111">7</text>
<text x="443.40" y="997.32" font-size="13.4" text-anchor="end" fill="#111">8</text>
<text x="443.40" y="979.90" font-size="13.4" text-anchor="end" fill="#111">9</text>
<text x="463.90" y="1152.70" font-size="14.4" text-anchor="middle" fill="#111">0</text>
<text x="483.20" y="1152.70" font-size="14.4" text-anchor="middle" fill="#111">5</text>
<text x="503.90" y="1152.70" font-size="14.4" text-anchor="middle" fill="#111" textLength="14.20" lengthAdjust="spacingAndGlyphs">10</text>
<text x="455.40" y="1175.50" font-size="13.4" text-anchor="start" fill="#111" textLength="57.40" lengthAdjust="spacingAndGlyphs">CZM (nM)</text>
<text x="460.50" y="959.20" font-size="15.4" text-anchor="start" fill="#111" textLength="32.60" lengthAdjust="spacingAndGlyphs" font-style="italic">Gfap</text>
<path d="M503.70 975.60L503.70 981.20M501.32 977.03L506.08 979.78M506.08 977.03L501.32 979.78" stroke="#404040" stroke-width="0.95" fill="none"/>
<text x="77.30" y="808.80" font-size="16.8" text-anchor="middle" fill="#111" textLength="91.30" lengthAdjust="spacingAndGlyphs" transform="rotate(-90 77.30 808.80)">Fold change</text>
<text x="75.10" y="1084.80" font-size="16.8" text-anchor="middle" fill="#111" textLength="91.30" lengthAdjust="spacingAndGlyphs" transform="rotate(-90 75.10 1084.80)">Fold change</text>
</svg>
</body></html>
